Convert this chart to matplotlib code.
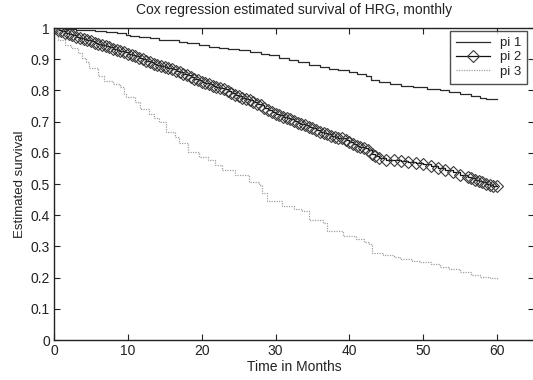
import matplotlib
matplotlib.use("Agg")
import matplotlib.pyplot as plt

plt.rcParams['font.family'] = ['Liberation Sans', 'DejaVu Sans']

title = "Cox regression estimated survival of HRG, monthly"
xlabel = "Time in Months"
ylabel = "Estimated survival"
labels = ["pi 1", "pi 2", "pi 3"]

t1 = [0, 1.5, 3, 4, 5.5, 7, 8.5, 9.7, 10.3, 11.5, 13, 14.2, 15.5, 16.9, 18, 19.6, 21, 22.3,
      23.5, 25, 26.5, 28, 29.1, 30.5, 31.8, 33, 34.5, 36, 37.3, 38.5, 40, 41, 42.3, 42.9,
      44, 45.5, 47, 48.6, 50.5, 52.3, 53.5, 55, 56.5, 57.7, 58.5, 60]
s1 = [1.0, 0.997, 0.994, 0.992, 0.989, 0.986, 0.983, 0.979, 0.975, 0.972, 0.968, 0.963, 0.96,
      0.956, 0.952, 0.944, 0.94, 0.935, 0.932, 0.928, 0.923, 0.917, 0.912, 0.905, 0.898, 0.89,
      0.882, 0.875, 0.869, 0.864, 0.858, 0.853, 0.847, 0.833, 0.826, 0.82, 0.815, 0.81, 0.806,
      0.8, 0.795, 0.789, 0.782, 0.776, 0.772, 0.772]

t2 = [0, 0.5, 1, 1.5, 2, 2.5, 3, 3.5, 4, 4.5, 5, 5.5, 6, 6.5, 7, 7.5, 8, 8.5, 9, 9.5, 10,
      10.5, 11, 11.5, 12, 12.5, 13, 13.5, 14, 14.5, 15, 15.5, 16, 16.5, 17, 17.5, 18, 18.5,
      19, 19.5, 20, 20.5, 21, 21.5, 22, 22.5, 23, 23.5, 24, 24.5, 25, 25.5, 26, 26.5, 27,
      27.5, 28, 28.5, 29, 29.5, 30, 30.5, 31, 31.5, 32, 32.5, 33, 33.5, 34, 34.5, 35, 35.5,
      36, 36.5, 37, 37.5, 38, 38.5, 39, 39.5, 40, 40.5, 41, 41.5, 42, 42.5, 43, 43.5, 44,
      45, 46, 47, 48, 49, 50, 51, 52, 53, 54, 55, 56, 56.5, 57, 57.5, 58, 58.5, 59, 59.5, 60]
s2 = [1.0, 0.995, 0.99, 0.985, 0.98, 0.977, 0.972, 0.968, 0.965, 0.96, 0.957, 0.953, 0.95,
      0.946, 0.942, 0.938, 0.934, 0.93, 0.926, 0.922, 0.918, 0.914, 0.909, 0.905, 0.9, 0.895,
      0.89, 0.886, 0.882, 0.878, 0.875, 0.872, 0.868, 0.863, 0.858, 0.853, 0.848, 0.843,
      0.838, 0.833, 0.828, 0.824, 0.82, 0.815, 0.812, 0.808, 0.804, 0.798, 0.792, 0.786,
      0.781, 0.777, 0.772, 0.768, 0.763, 0.758, 0.752, 0.745, 0.738, 0.731, 0.725, 0.72,
      0.716, 0.711, 0.707, 0.702, 0.697, 0.693, 0.688, 0.683, 0.678, 0.673, 0.668, 0.663,
      0.659, 0.655, 0.652, 0.649, 0.646, 0.64, 0.634, 0.628, 0.622, 0.618, 0.615, 0.61,
      0.597, 0.59, 0.584, 0.578, 0.577, 0.575, 0.572, 0.568, 0.563, 0.558, 0.551, 0.544,
      0.537, 0.529, 0.522, 0.518, 0.513, 0.509, 0.505, 0.5, 0.497, 0.494, 0.492]

t3 = [0, 0.5, 1.5, 2.3, 3.2, 3.8, 4.3, 4.7, 5.9, 6.8, 8.0, 9.0, 9.5, 9.8, 11.0, 11.7, 12.8,
      13.5, 14.2, 15.1, 16.4, 16.9, 18.2, 19.6, 20.9, 21.8, 22.7, 24.5, 26.4, 27.7, 28.2,
      28.9, 30.9, 32.5, 33.6, 34.5, 36.4, 37.0, 39.1, 40.9, 42.0, 42.7, 43.0, 44.5, 46.0,
      46.8, 48.5, 49.5, 51.0, 52.3, 53.5, 55.0, 56.5, 57.7, 59.0, 60.0]
s3 = [1.0, 0.96, 0.947, 0.937, 0.921, 0.905, 0.89, 0.873, 0.847, 0.831, 0.822, 0.81, 0.79,
      0.778, 0.762, 0.741, 0.725, 0.712, 0.698, 0.667, 0.651, 0.63, 0.603, 0.587, 0.577,
      0.561, 0.545, 0.529, 0.508, 0.497, 0.471, 0.444, 0.429, 0.42, 0.413, 0.386, 0.376,
      0.349, 0.333, 0.323, 0.315, 0.307, 0.28, 0.273, 0.265, 0.259, 0.252, 0.249, 0.242,
      0.233, 0.226, 0.217, 0.209, 0.201, 0.198, 0.196]

xticks = [0, 10, 20, 30, 40, 50, 60]
yticks = [0, 0.1, 0.2, 0.3, 0.4, 0.5, 0.6, 0.7, 0.8, 0.9, 1]
yticklabels = ["0", "0.1", "0.2", "0.3", "0.4", "0.5", "0.6", "0.7", "0.8", "0.9", "1"]

W, H = 533, 380
FS = 10
fig = plt.figure(figsize=(W / 100, H / 100), dpi=100)
ax = fig.add_axes([54 / W, 1 - 340 / H, 480 / W, 312 / H])

ax.step(t1, s1, where='post', color='#2a2a2a', lw=0.9)
ax.step(t2, s2, where='post', color='#111111', lw=0.9)
ax.plot(t2, s2, ls='none', marker='D', ms=5.8, mfc='none', mec='#3a3a3a', mew=0.8)
ax.step(t3, s3, where='post', color='#a0a0a0', lw=0.9, ls=(0, (1, 1)))

# legend proxies
h1 = plt.Line2D([], [], color='#2a2a2a', lw=0.9)
h2 = plt.Line2D([], [], color='#111111', lw=0.9, marker='D', ms=5.8, mfc='none',
                mec='#3a3a3a', mew=0.8)
h3 = plt.Line2D([], [], color='#a0a0a0', lw=0.9, ls=(0, (1, 1)))

ax.set_xlim(0, 65)
ax.set_ylim(0, 1)
ax.set_xticks(xticks)
ax.set_xticklabels([str(v) for v in xticks])
ax.set_yticks(yticks)
ax.set_yticklabels(yticklabels)
ax.tick_params(direction='in', length=4, width=0.8, top=True, right=True,
               labelsize=FS, colors='#222222', pad=3)
for sp in ax.spines.values():
    sp.set_linewidth(1.0)
    sp.set_color('#222222')

ax.set_xlabel(xlabel, fontsize=FS, color='#222222', labelpad=1)
ax.set_ylabel(ylabel, fontsize=9.5, color='#222222', labelpad=3)
fig.text((54 + 534) / 2 / W, 1 - 10 / H, title, ha='center', va='center',
         fontsize=FS, color='#222222')

leg = ax.legend([h1, h2, h3], labels, loc='upper right',
                bbox_to_anchor=(527 / W, 1 - 31 / H), bbox_transform=fig.transFigure,
                borderaxespad=0, fontsize=9.5, frameon=True, fancybox=False,
                handlelength=2.6, handletextpad=0.7, labelspacing=0.15,
                borderpad=0.45, numpoints=1)
leg.get_frame().set_edgecolor('#222222')
leg.get_frame().set_linewidth(1.0)
for txt in leg.get_texts():
    txt.set_color('#222222')

fig.savefig("out.png", dpi=100)
